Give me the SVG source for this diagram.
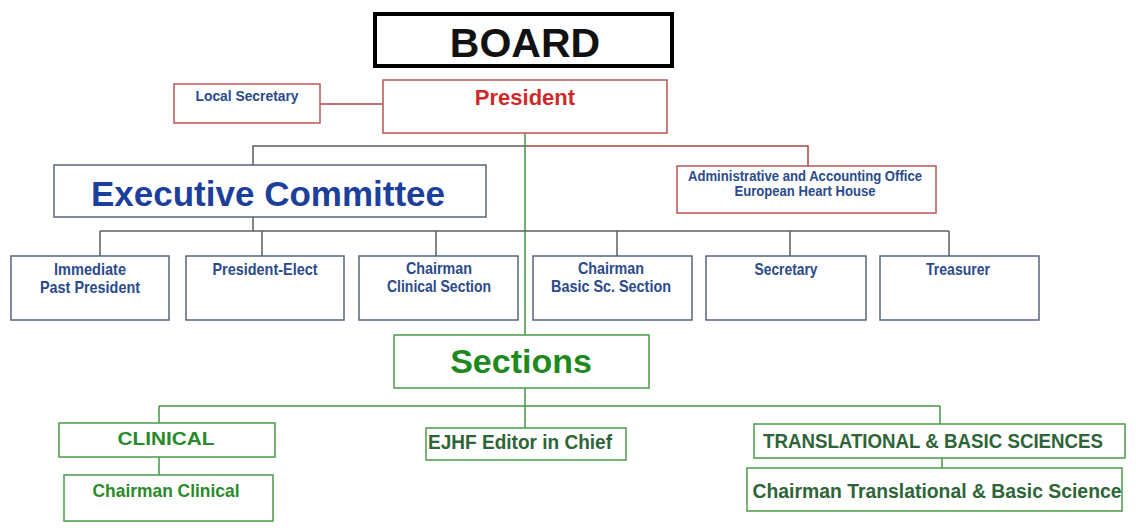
<svg xmlns="http://www.w3.org/2000/svg" width="1136" height="530" viewBox="0 0 1136 530">
<style>
.t{font-family:"Liberation Sans",Arial,sans-serif;font-weight:bold;text-anchor:middle}
.blue{fill:#2b4a8b;font-size:16.5px}
.gbox{fill:#fff;stroke:#4a9a4a;stroke-width:1.5}
.bbox{fill:#fff;stroke:#56657a;stroke-width:1.5}
.rbox{fill:#fff;stroke:#b85555;stroke-width:1.5}
.cg{fill:none;stroke:#5a5f66;stroke-width:1.5}
.cr{fill:none;stroke:#a84444;stroke-width:1.5}
.cgr{fill:none;stroke:#3f9440;stroke-width:1.5}
.dg{fill:#2e6538;font-size:19.5px}
</style>
<rect width="1136" height="530" fill="#fff"/>
<g id="connectors">
<line class="cr" x1="320" y1="104" x2="383" y2="104"/>
<polyline class="cg" points="253,165 253,146 525,146"/>
<polyline class="cr" points="525,146 808,146 808,166"/>
<line class="cgr" x1="525" y1="133" x2="525" y2="335"/>
<line class="cg" x1="253" y1="217" x2="253" y2="231"/>
<line class="cg" x1="100" y1="231" x2="949" y2="231"/>
<line class="cg" x1="100" y1="231" x2="100" y2="256"/>
<line class="cg" x1="262" y1="231" x2="262" y2="256"/>
<line class="cg" x1="436" y1="231" x2="436" y2="256"/>
<line class="cg" x1="617" y1="231" x2="617" y2="256"/>
<line class="cg" x1="790" y1="231" x2="790" y2="256"/>
<line class="cg" x1="949" y1="231" x2="949" y2="256"/>
<line class="cgr" x1="525" y1="388" x2="525" y2="428"/>
<line class="cgr" x1="159" y1="406" x2="940" y2="406"/>
<line class="cgr" x1="159" y1="406" x2="159" y2="423"/>
<line class="cgr" x1="940" y1="406" x2="940" y2="424"/>
<line class="cgr" x1="159" y1="457" x2="159" y2="475"/>
<line class="cgr" x1="942" y1="458" x2="942" y2="468"/>
</g>
<g id="board">
<rect x="375" y="14" width="297" height="52" fill="#fff" stroke="#000" stroke-width="4"/>
<text class="t" x="525" y="57" font-size="41" fill="#111">BOARD</text>
</g>
<g id="president">
<rect class="rbox" x="383" y="80" width="284" height="53"/>
<text class="t" x="525" y="105" font-size="22" fill="#d02828">President</text>
</g>
<g id="local-secretary">
<rect class="rbox" x="174" y="84" width="146" height="39" stroke="#c04444"/>
<text class="t" x="247" y="101" font-size="15" fill="#2b4a8b" textLength="103" lengthAdjust="spacingAndGlyphs">Local Secretary</text>
</g>
<g id="executive-committee">
<rect class="bbox" x="54" y="165" width="432" height="52"/>
<text class="t" x="268" y="206" font-size="35" fill="#1c3f9c">Executive Committee</text>
</g>
<g id="admin-office">
<rect class="rbox" x="677" y="166" width="259" height="47" stroke="#c04a4a"/>
<text class="t" x="805" y="181" font-size="14" fill="#2b4a8b" textLength="234" lengthAdjust="spacingAndGlyphs">Administrative and Accounting  Office</text>
<text class="t" x="805" y="196" font-size="14" fill="#2b4a8b" textLength="141" lengthAdjust="spacingAndGlyphs">European Heart House</text>
</g>
<g id="immediate-past-president">
<rect class="bbox" x="11" y="256" width="158" height="64"/>
<text class="t blue" x="90" y="275" textLength="72" lengthAdjust="spacingAndGlyphs">Immediate</text>
<text class="t blue" x="90" y="293" textLength="100" lengthAdjust="spacingAndGlyphs">Past President</text>
</g>
<g id="president-elect">
<rect class="bbox" x="186" y="256" width="158" height="64"/>
<text class="t blue" x="265" y="275" textLength="105" lengthAdjust="spacingAndGlyphs">President-Elect</text>
</g>
<g id="chairman-clinical-section">
<rect class="bbox" x="359" y="256" width="159" height="64"/>
<text class="t blue" x="439" y="274" textLength="66" lengthAdjust="spacingAndGlyphs">Chairman</text>
<text class="t blue" x="439" y="292" textLength="104" lengthAdjust="spacingAndGlyphs">Clinical Section</text>
</g>
<g id="chairman-basic-section">
<rect class="bbox" x="533" y="256" width="159" height="64"/>
<text class="t blue" x="611" y="274" textLength="66" lengthAdjust="spacingAndGlyphs">Chairman</text>
<text class="t blue" x="611" y="292" textLength="120" lengthAdjust="spacingAndGlyphs">Basic Sc. Section</text>
</g>
<g id="secretary">
<rect class="bbox" x="706" y="256" width="160" height="64"/>
<text class="t blue" x="786" y="275" textLength="63" lengthAdjust="spacingAndGlyphs">Secretary</text>
</g>
<g id="treasurer">
<rect class="bbox" x="880" y="256" width="159" height="64"/>
<text class="t blue" x="958" y="275" textLength="64" lengthAdjust="spacingAndGlyphs">Treasurer</text>
</g>
<g id="sections">
<rect class="gbox" x="394" y="335" width="255" height="53"/>
<text class="t" x="521" y="373" font-size="34" fill="#1e8a1e">Sections</text>
</g>
<g id="clinical">
<rect class="gbox" x="59" y="423" width="216" height="34"/>
<text class="t" x="166" y="445" font-size="19" fill="#2a8a2a" textLength="97" lengthAdjust="spacingAndGlyphs">CLINICAL</text>
</g>
<g id="chairman-clinical">
<rect class="gbox" x="64" y="475" width="209" height="46"/>
<text class="t" x="166" y="497" font-size="18.5" fill="#2a8a2a" textLength="147" lengthAdjust="spacingAndGlyphs">Chairman Clinical</text>
</g>
<g id="ejhf-editor">
<rect class="gbox" x="426" y="428" width="200" height="32"/>
<text class="t dg" x="520" y="449" textLength="184" lengthAdjust="spacingAndGlyphs">EJHF Editor in Chief</text>
</g>
<g id="translational">
<rect class="gbox" x="754" y="424" width="371" height="34"/>
<text class="t dg" x="933" y="448" textLength="340" lengthAdjust="spacingAndGlyphs">TRANSLATIONAL &amp; BASIC SCIENCES</text>
</g>
<g id="chairman-translational">
<rect class="gbox" x="747" y="468" width="375" height="43"/>
<text class="t dg" x="937" y="498" textLength="369" lengthAdjust="spacingAndGlyphs">Chairman Translational &amp; Basic Science</text>
</g>
</svg>
